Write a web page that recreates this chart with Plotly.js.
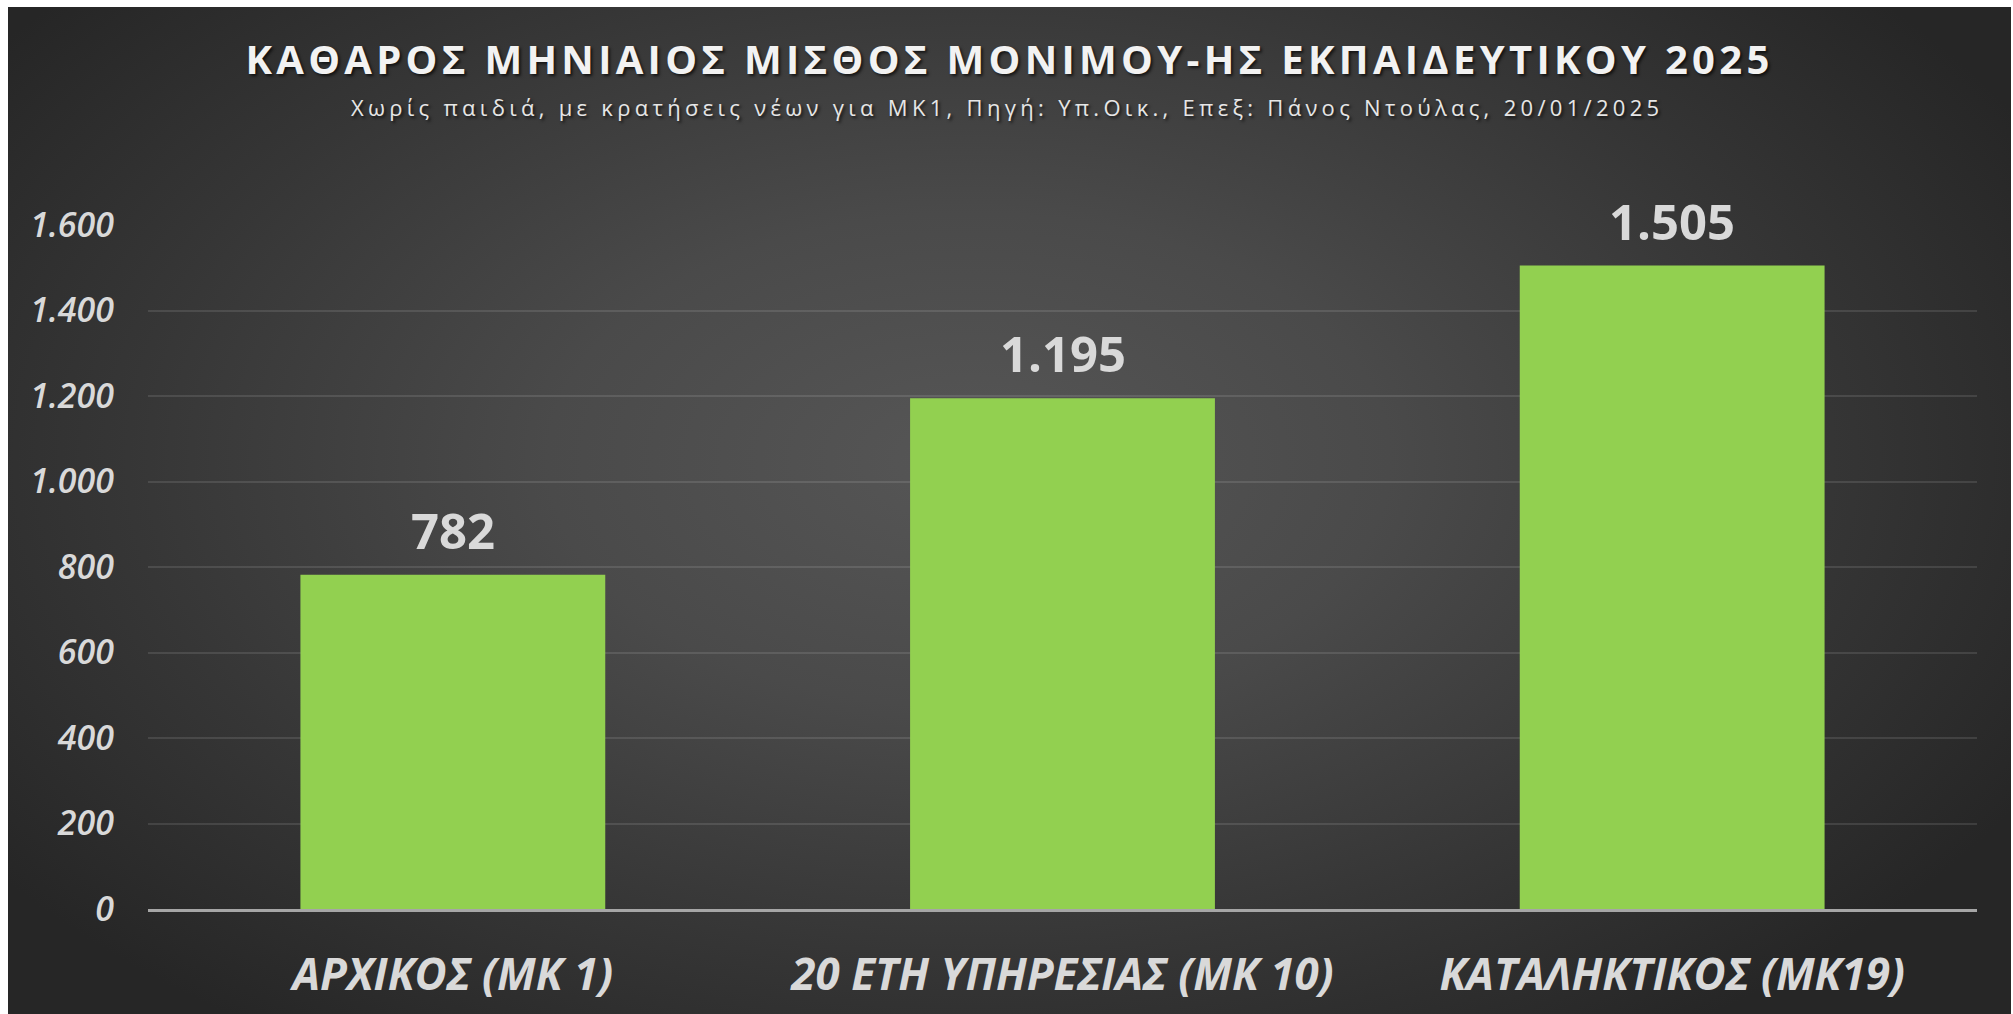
<!DOCTYPE html>
<html>
<head>
<meta charset="utf-8">
<script src="https://cdn.plot.ly/plotly-3.0.1.min.js"></script>
<style>
  html, body { margin: 0; padding: 0; background: #ffffff; width: 2013px; height: 1014px; overflow: hidden; }
  #chart {
    position: absolute; left: 8px; top: 7px; width: 2003px; height: 1007px;
    background: radial-gradient(ellipse 60% 70% at 48% 45%, #565656 0%, #4a4a4a 35%, #363636 70%, #262626 100%);
  }
  #chart .gtitle { letter-spacing: 4.3px; }
  #chart .annotation[data-index="0"] text { letter-spacing: 4.3px; }
</style>
</head>
<body>
<div id="chart"></div>
<script>
const titleText = 'ΚΑΘΑΡΟΣ ΜΗΝΙΑΙΟΣ ΜΙΣΘΟΣ ΜΟΝΙΜΟΥ-ΗΣ ΕΚΠΑΙΔΕΥΤΙΚΟΥ 2025';
const subtitleText = 'Χωρίς παιδιά, με κρατήσεις νέων για ΜΚ1, Πηγή: Υπ.Οικ., Επεξ: Πάνος Ντούλας, 20/01/2025';
const categories = ['ΑΡΧΙΚΟΣ (ΜΚ 1)', '20 ΕΤΗ ΥΠΗΡΕΣΙΑΣ (ΜΚ 10)', 'ΚΑΤΑΛΗΚΤΙΚΟΣ (ΜΚ19)'];
const salaries = [782, 1195, 1505];
const yTickValues = [0, 200, 400, 600, 800, 1000, 1200, 1400, 1600];

function fmtGreek(v) {
  return String(v).replace(/\B(?=(\d{3})+(?!\d))/g, '.');
}

const FONT = '"Open Sans", "Noto Sans", sans-serif';
const shadow = '2px 2px 3px rgba(0,0,0,0.65)';

const trace = {
  type: 'bar',
  x: categories,
  y: salaries,
  marker: { color: '#92d050', line: { width: 0 } },
  hoverinfo: 'skip'
};

const annotations = [{
  text: subtitleText,
  xref: 'paper', yref: 'paper',
  x: 0.4697, y: 1.173, xanchor: 'center', yanchor: 'middle',
  showarrow: false,
  font: { family: FONT, size: 22, color: '#e6e6e6', shadow: shadow }
}];
categories.forEach((c, i) => {
  annotations.push({
    text: fmtGreek(salaries[i]),
    x: c, y: salaries[i], xref: 'x', yref: 'y',
    xanchor: 'center', yanchor: 'bottom', yshift: 10,
    showarrow: false,
    font: { family: FONT, size: 49, weight: 700, color: '#d9d9d9' }
  });
});

const layout = {
  width: 2003, height: 1007,
  paper_bgcolor: 'rgba(0,0,0,0)',
  plot_bgcolor: 'rgba(0,0,0,0)',
  separators: ',.',
  margin: { l: 140, r: 34, t: 218, b: 105 },
  showlegend: false,
  bargap: 0.5,
  title: {
    text: titleText,
    x: 0.5, xanchor: 'center', xref: 'container',
    y: 1 - 53 / 1007, yanchor: 'middle', yref: 'container',
    font: { family: FONT, size: 40, weight: 700, color: '#f2f2f2', shadow: shadow }
  },
  xaxis: {
    type: 'category',
    showgrid: false,
    showline: true, linecolor: '#a6a6a6', linewidth: 3,
    ticks: '', ticklabelstandoff: 25,
    tickfont: { family: FONT, size: 44, weight: 700, style: 'italic', color: '#d9d9d9' },
    fixedrange: true
  },
  yaxis: {
    range: [0, 1600],
    tickvals: yTickValues,
    ticktext: yTickValues.map(fmtGreek),
    showgrid: true, gridcolor: 'rgba(255,255,255,0.11)', gridwidth: 2,
    zeroline: false, showline: false,
    ticks: '', ticklabelstandoff: 33,
    tickfont: { family: FONT, size: 34, weight: 600, style: 'italic', color: '#d9d9d9' },
    fixedrange: true
  },
  annotations: annotations
};

Plotly.newPlot('chart', [trace], layout, { staticPlot: true, displayModeBar: false });
</script>
</body>
</html>
